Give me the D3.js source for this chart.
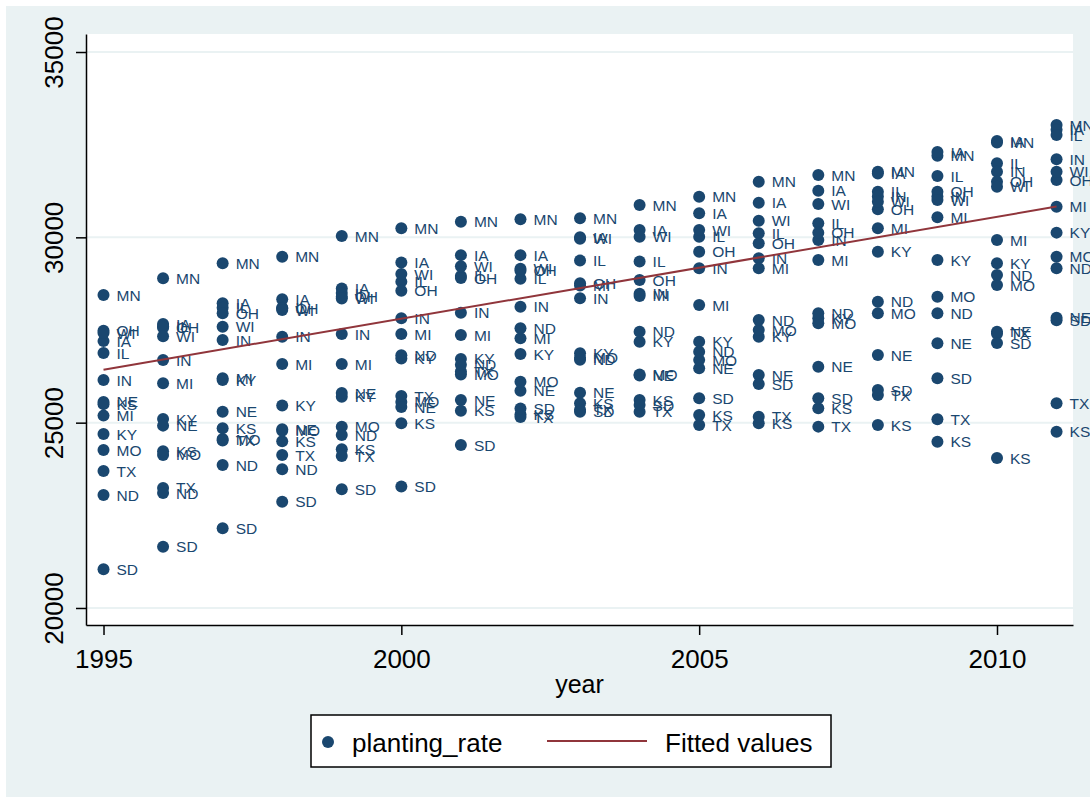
<!DOCTYPE html>
<html>
<head>
<meta charset="utf-8">
<script src="https://cdn.jsdelivr.net/npm/d3@7"></script>
<style>
  body { margin: 0; background: #fff; }
  svg { display: block; font-family: "Liberation Sans", Arial, sans-serif; }
</style>
</head>
<body>
<div id="chart"></div>
<script>
// years on the x axis
const years = [1995, 1996, 1997, 1998, 1999, 2000, 2001, 2002, 2003, 2004, 2005, 2006, 2007, 2008, 2009, 2010, 2011];

// planting rate by state, one value per year
const states = ["MN", "IA", "IL", "IN", "OH", "WI", "MI", "KY", "NE", "KS", "MO", "TX", "ND", "SD"];
const MN = [28445, 28895, 29300, 29478, 30036, 30244, 30422, 30489, 30516, 30873, 31097, 31502, 31682, 31772, 32200, 32560, 33031];
const IA = [27200, 27660, 28221, 28330, 28620, 29318, 29520, 29520, 30000, 30199, 30650, 30935, 31259, 31720, 32300, 32600, 32900];
const IL = [26880, 27600, 28100, 28100, 28500, 28805, 28960, 28880, 29372, 29345, 30019, 30109, 30379, 31233, 31655, 31998, 32761];
const IN = [26152, 26691, 27231, 27320, 27393, 27815, 27968, 28130, 28356, 28480, 29164, 29435, 29929, 31100, 31100, 31772, 32105];
const OH = [27480, 27560, 27951, 28090, 28400, 28562, 28900, 29100, 28760, 28850, 29613, 29840, 30127, 30756, 31233, 31502, 31547];
const WI = [27420, 27330, 27590, 28040, 28350, 29011, 29220, 29150, 29960, 30019, 30199, 30450, 30900, 30963, 31008, 31367, 31772];
const MI = [25190, 26062, 26200, 26584, 26584, 27393, 27366, 27276, 28700, 28420, 28175, 29164, 29389, 30244, 30541, 29929, 30827];
const KY = [24695, 25100, 26150, 25460, 25700, 26730, 26720, 26854, 26870, 27185, 27185, 27320, 27820, 29613, 29389, 29300, 30127];
const NE = [25560, 24920, 25297, 24820, 25800, 25420, 25613, 25863, 25809, 26270, 26466, 26287, 26511, 26827, 27142, 27450, 27830];
const KS = [25500, 24230, 24848, 24500, 24282, 24984, 25324, 25220, 25522, 25613, 25208, 24984, 25388, 24938, 24488, 24048, 24757];
const MO = [24263, 24130, 24560, 24780, 24893, 25560, 26300, 26106, 26750, 26300, 26690, 27500, 27681, 27949, 28400, 28715, 29478];
const TX = [23697, 23240, 24520, 24128, 24101, 25720, 26380, 25150, 25350, 25297, 24938, 25162, 24893, 25747, 25094, 27400, 25522];
const ND = [23050, 23100, 23859, 23742, 24668, 26820, 26560, 27546, 26700, 27455, 26915, 27770, 27949, 28265, 27949, 28984, 29164];
const SD = [21045, 21655, 22151, 22869, 23203, 23275, 24398, 25380, 25297, 25478, 25657, 26044, 25657, 25882, 26198, 27150, 27760];

// fitted values (straight line) at the two ends of the year range
const fitYears = [1995, 2011];
const fitValues = [26430, 30830];

// tick labels
const xTicks = [1995, 2000, 2005, 2010];
const yTicks = [20000, 25000, 30000, 35000];

const stateValues = { MN, IA, IL, IN, OH, WI, MI, KY, NE, KS, MO, TX, ND, SD };

const width = 1090, height = 797;
const plot = { left: 86, right: 1073, top: 34, bottom: 625 };

const navy = "#1a476f", maroon = "#90353b", bluish = "#eaf2f3";

// flatten to points
const points = [];
states.forEach(s => {
    stateValues[s].forEach((v, i) => points.push({ state: s, year: years[i], value: v }));
});

const svg = d3.select("#chart").append("svg")
    .attr("width", width)
    .attr("height", height);

// graph region + plot region
svg.append("rect").attr("x", 6).attr("y", 6)
    .attr("width", width - 6).attr("height", height - 6)
    .attr("fill", bluish);
svg.append("rect").attr("x", plot.left).attr("y", plot.top)
    .attr("width", plot.right - plot.left).attr("height", plot.bottom - plot.top)
    .attr("fill", "#fff");

// scales (domain padded so 1995 / 35000 etc land where Stata puts them)
const x = d3.scaleLinear()
    .domain([1994.706, 2011.276])
    .range([plot.left, plot.right]);

const y = d3.scaleLinear()
    .domain([19541, 35486])
    .range([plot.bottom, plot.top]);

// grid lines
svg.append("g").selectAll("line")
    .data(yTicks)
    .enter().append("line")
    .attr("x1", plot.left).attr("x2", plot.right)
    .attr("y1", d => y(d)).attr("y2", d => y(d))
    .attr("stroke", bluish)
    .attr("stroke-width", 2);

// y axis
const yAxis = svg.append("g")
    .attr("transform", `translate(${plot.left},0)`)
    .call(d3.axisLeft(y).tickValues(yTicks).tickSize(10).tickSizeOuter(0).tickFormat(d3.format("d")));
yAxis.selectAll("text")
    .attr("x", null).attr("dy", null)
    .attr("text-anchor", "middle")
    .attr("transform", "translate(-23,0) rotate(-90)")
    .attr("fill", "#000")
    .style("font-size", "26px");

// x axis
const xAxis = svg.append("g")
    .attr("transform", `translate(0,${plot.bottom})`)
    .call(d3.axisBottom(x).tickValues(xTicks).tickSize(10).tickSizeOuter(0).tickFormat(d3.format("d")));
xAxis.selectAll("text")
    .attr("y", 43).attr("dy", null)
    .attr("fill", "#000")
    .style("font-size", "26px");

[yAxis, xAxis].forEach(a => {
    a.select(".domain").attr("stroke", "#000").attr("stroke-width", 1.5);
    a.selectAll(".tick line").attr("stroke", "#000").attr("stroke-width", 1.5);
});

svg.append("text")
    .attr("x", (plot.left + plot.right) / 2)
    .attr("y", 693)
    .attr("text-anchor", "middle")
    .style("font-size", "25px")
    .text("year");

// markers
svg.append("g").selectAll("circle")
    .data(points)
    .enter().append("circle")
    .attr("cx", d => x(d.year))
    .attr("cy", d => y(d.value))
    .attr("r", 6)
    .attr("fill", navy);

// marker labels
svg.append("g").selectAll("text")
    .data(points)
    .enter().append("text")
    .attr("x", d => x(d.year) + 13)
    .attr("y", d => y(d.value))
    .attr("dy", "0.36em")
    .attr("fill", navy)
    .style("font-size", "15.5px")
    .text(d => d.state);

// fitted line
const fitData = fitYears.map((yr, i) => ({ year: yr, value: fitValues[i] }));
svg.append("path")
    .datum(fitData)
    .attr("fill", "none")
    .attr("stroke", maroon)
    .attr("stroke-width", 2)
    .attr("d", d3.line().x(d => x(d.year)).y(d => y(d.value)));

// legend
const legend = svg.append("g");
legend.append("rect")
    .attr("x", 311).attr("y", 715)
    .attr("width", 520).attr("height", 52)
    .attr("fill", "#fff")
    .attr("stroke", "#000")
    .attr("stroke-width", 1.5);
legend.append("circle")
    .attr("cx", 328).attr("cy", 742).attr("r", 6)
    .attr("fill", navy);
legend.append("text")
    .attr("x", 352).attr("y", 751.5)
    .style("font-size", "26px")
    .text("planting_rate");
legend.append("line")
    .attr("x1", 547).attr("x2", 647)
    .attr("y1", 741).attr("y2", 741)
    .attr("stroke", maroon)
    .attr("stroke-width", 2);
legend.append("text")
    .attr("x", 665).attr("y", 751.5)
    .style("font-size", "26px")
    .text("Fitted values");
</script>
</body>
</html>
